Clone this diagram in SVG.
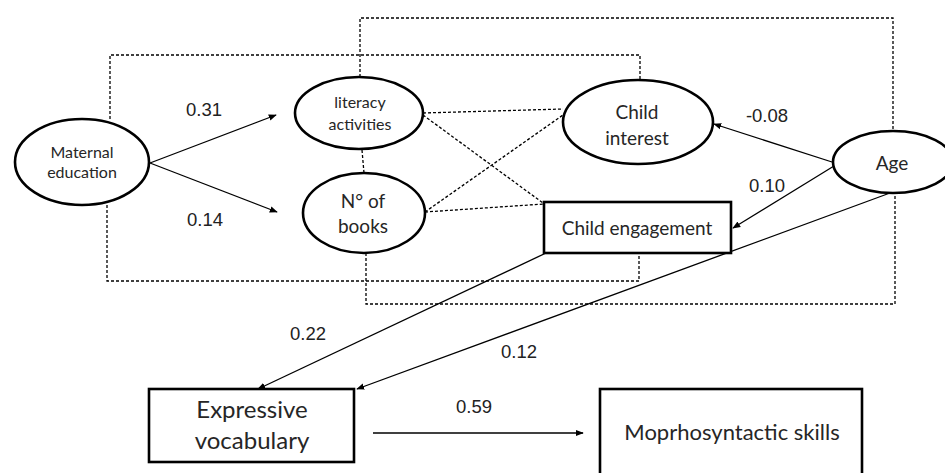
<svg xmlns="http://www.w3.org/2000/svg" width="945" height="473" viewBox="0 0 945 473">
<defs>
<marker id="ah" viewBox="0 0 10 10" refX="9" refY="5" markerWidth="8" markerHeight="8" markerUnits="userSpaceOnUse" orient="auto">
<path d="M0,1 L10,5 L0,9 z" fill="#000"/>
</marker>
</defs>
<style>
.node{fill:#fff;stroke:#000;stroke-width:2.6}
.box{fill:#fff;stroke:#000;stroke-width:2.6}
.t{font-family:Lato,"Liberation Sans",sans-serif;fill:#262626;text-anchor:middle}
.lbl{font-family:"Liberation Sans",Arial,sans-serif;font-size:18.5px;fill:#222;text-anchor:middle}
.arr{fill:none;stroke:#000;stroke-width:1.3;marker-end:url(#ah)}
.dash{fill:none;stroke:#000;stroke-width:1.3;stroke-dasharray:3 2}
</style>
<rect width="945" height="473" fill="#fff"/>
<g id="connectors">
<path class="dash" d="M110,119 V55 H640 V80"/>
<path class="dash" d="M107,205 V281 H639 V253"/>
<path class="dash" d="M360,77 V18 H893 V131"/>
<path class="dash" d="M366,253 V304 H895 V193"/>
<path class="dash" d="M362,150 L364,173"/>
<path class="dash" d="M423,113 L563,109"/>
<path class="dash" d="M423,115 L543,203"/>
<path class="dash" d="M425,212 L563,115"/>
<path class="dash" d="M425,212 L544,204"/>
<path class="arr" d="M150,163 L276,115"/>
<path class="arr" d="M150,163 L277,212"/>
<path class="arr" d="M832,162 L714,124"/>
<path class="arr" d="M834,166 L733,228"/>
<path class="arr" d="M546,253 L258,389"/>
<path class="arr" d="M890,193 L357,389"/>
<path class="arr" d="M373,433 L583,433"/>
</g>
<g id="labels">
<text class="lbl" x="204" y="116">0.31</text>
<text class="lbl" x="205" y="226">0.14</text>
<text class="lbl" x="767" y="122">-0.08</text>
<text class="lbl" x="767" y="192">0.10</text>
<text class="lbl" x="308" y="340">0.22</text>
<text class="lbl" x="519" y="358">0.12</text>
<text class="lbl" x="474" y="413">0.59</text>
</g>
<g id="maternal-education">
<ellipse class="node" cx="82" cy="162" rx="67" ry="43"/>
<text class="t" x="82" y="158" font-size="16">Maternal</text>
<text class="t" x="82" y="178" font-size="16">education</text>
</g>
<g id="literacy-activities">
<ellipse class="node" cx="359" cy="113" rx="64" ry="36"/>
<text class="t" x="360" y="108" font-size="16">literacy</text>
<text class="t" x="360" y="130" font-size="16">activities</text>
</g>
<g id="n-of-books">
<ellipse class="node" cx="364" cy="213" rx="61" ry="40"/>
<text class="t" x="363" y="208" font-size="19">N° of</text>
<text class="t" x="363" y="233" font-size="19">books</text>
</g>
<g id="child-interest">
<ellipse class="node" cx="638" cy="122" rx="75" ry="42"/>
<text class="t" x="637" y="119" font-size="19">Child</text>
<text class="t" x="637" y="145" font-size="19">interest</text>
</g>
<g id="age">
<ellipse class="node" cx="893" cy="162" rx="60" ry="31"/>
<text class="t" x="892" y="170" font-size="19">Age</text>
</g>
<g id="child-engagement">
<rect class="box" x="544" y="202" width="187" height="51"/>
<text class="t" x="637" y="235" font-size="19">Child engagement</text>
</g>
<g id="expressive-vocabulary">
<rect class="box" x="149" y="389" width="205" height="73"/>
<text class="t" x="252" y="418" font-size="24">Expressive</text>
<text class="t" x="252" y="449" font-size="24">vocabulary</text>
</g>
<g id="morphosyntactic-skills">
<rect class="box" x="600" y="389" width="262" height="90"/>
<text class="t" x="732" y="440" font-size="22">Moprhosyntactic skills</text>
</g>
</svg>
